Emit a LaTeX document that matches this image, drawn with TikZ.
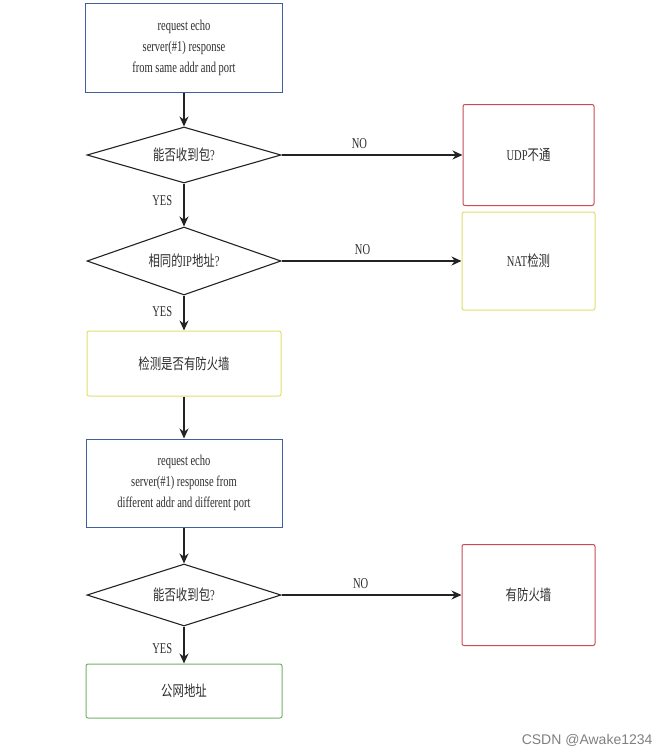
\documentclass[tikz,border=0pt]{standalone}
\usepackage{fontspec}
\setmainfont{Liberation Serif}[FakeStretch=0.7]
\newfontfamily\cjk{Noto Sans CJK SC}[FakeStretch=0.76]
\newfontfamily\wmfont{Liberation Sans}
\usetikzlibrary{shapes.geometric,arrows.meta}
\definecolor{txtgray}{RGB}{45,45,45}
\definecolor{linegray}{RGB}{35,35,35}
\definecolor{boxblue}{RGB}{65,95,160}
\definecolor{boxred}{RGB}{200,75,85}
\definecolor{boxyellow}{RGB}{222,222,110}
\definecolor{boxgreen}{RGB}{110,180,100}
\newcommand{\zh}[1]{{\cjk #1}}
\tikzset{
  stepbox/.style={draw=#1,line width=1pt,align=center,inner sep=0pt},
  decide/.style={draw=linegray,line width=1.1pt,shape=diamond,aspect=3,inner sep=0pt,minimum width=194pt},
  flow/.style={->,draw=linegray,line width=1.1pt}
}
\begin{document}
\begin{tikzpicture}[x=1pt,y=-1pt,every node/.style={font=\fontsize{15}{21}\selectfont,text=txtgray},
  >={Stealth[length=10pt,width=9pt]}]
\useasboundingbox (0,0) rectangle (671,756);
\node[stepbox=boxblue,minimum width=197pt,minimum height=89pt] (req1) at (184,47.5) {request echo\\ server(\#1) response\\ from same addr and port};
\node[decide,minimum height=56pt] (recv1) at (184,155) {\zh{能否收到包}?};
\node[stepbox=boxred,rounded corners=2pt,minimum width=131pt,minimum height=101pt] (udp) at (528.5,155) {UDP\zh{不通}};
\node[decide,minimum height=68pt] (sameip) at (184,261) {\zh{相同的}IP\zh{地址}?};
\node[stepbox=boxyellow,rounded corners=2pt,minimum width=133pt,minimum height=98pt] (nat) at (528.5,261) {NAT\zh{检测}};
\node[stepbox=boxyellow,rounded corners=2pt,minimum width=194pt,minimum height=65pt] (fwcheck) at (184,363.5) {\zh{检测是否有防火墙}};
\node[stepbox=boxblue,minimum width=196pt,minimum height=88pt] (req2) at (184,483) {request echo\\ server(\#1) response from\\ different addr and different port};
\node[decide,minimum height=62pt] (recv2) at (184,595) {\zh{能否收到包}?};
\node[stepbox=boxred,rounded corners=2pt,minimum width=133pt,minimum height=101pt] (fwyes) at (528.5,595) {\zh{有防火墙}};
\node[stepbox=boxgreen,rounded corners=2pt,minimum width=196pt,minimum height=54pt] (pubaddr) at (184,691) {\zh{公网地址}};
\node[anchor=east,text=gray,font=\wmfont\fontsize{14}{16}\selectfont] (mark) at (656,740) {CSDN @Awake1234};
\draw[flow] (req1) -- (recv1);
\draw[flow] (recv1) -- node[pos=0.43,above=2pt] {NO} (udp);
\draw[flow] (recv1) -- node[pos=0.39,left=8pt] {YES} (sameip);
\draw[flow] (sameip) -- node[pos=0.45,above=2pt] {NO} (nat);
\draw[flow] (sameip) -- node[pos=0.47,left=8pt] {YES} (fwcheck);
\draw[flow] (fwcheck) -- (req2);
\draw[flow] (req2) -- (recv2);
\draw[flow] (recv2) -- node[pos=0.44,above=2pt] {NO} (fwyes);
\draw[flow] (recv2) -- node[pos=0.6,left=8pt] {YES} (pubaddr);
\end{tikzpicture}
\end{document}
